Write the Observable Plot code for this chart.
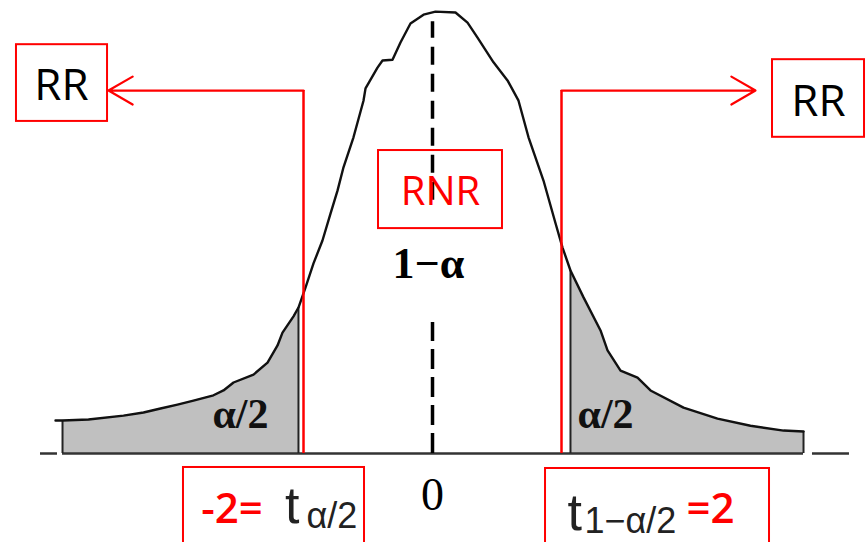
<!DOCTYPE html>
<html>
<head>
<meta charset="utf-8">
<script src="https://cdn.jsdelivr.net/npm/d3@7"></script>
<script src="https://cdn.jsdelivr.net/npm/@observablehq/plot@0.6"></script>
<style>
  html, body { margin: 0; padding: 0; background: #fff; }
  #chart svg { display: block; }
</style>
</head>
<body>
<div id="chart"></div>
<script>
// t-distribution curve (t units, relative density, peak = 1)
const curveT = [-5.544,-5.441,-5.059,-4.544,-4.250,-4.000,-3.750,-3.515,-3.221,-3.074,-2.926,-2.632,-2.426,-2.279,-2.206,-2.044,-1.971,-1.868,-1.750,-1.618,-1.500,-1.397,-1.309,-1.162,-1.015,-0.985,-0.809,-0.735,-0.588,-0.471,-0.324,-0.132,0.044,0.338,0.515,0.662,0.897,1.103,1.265,1.412,1.632,1.809,1.912,2.029,2.221,2.471,2.574,2.765,3.015,3.206,3.691,4.191,4.676,5.162,5.456];
const curveD = [0.075,0.075,0.077,0.086,0.093,0.102,0.111,0.120,0.132,0.143,0.161,0.179,0.206,0.245,0.274,0.311,0.331,0.376,0.431,0.483,0.544,0.596,0.649,0.717,0.800,0.828,0.875,0.891,0.893,0.932,0.975,0.995,1.002,1.000,0.977,0.943,0.887,0.846,0.800,0.717,0.619,0.522,0.467,0.415,0.354,0.279,0.234,0.188,0.172,0.143,0.104,0.079,0.063,0.052,0.050];

// Critical values (shaded tail limits) and the marked critical points ±2
const tailLeft = [-5.441, -1.971];
const tailRight = [2.029, 5.456];
const critical = [-1.897, 1.897];

// Labels
const regionLabels = ["RR", "RNR", "RR"];
const centerLabel = "1−α";
const tailLabel = "α/2";
const zeroLabel = "0";
const leftCrit = ["-2=", "t", "α/2"];
const rightCrit = ["t", "1−α/2", "=2"];

const curve = curveT.map((t, i) => ({t, d: curveD[i]}));
const leftShade = curve.filter(p => p.t >= tailLeft[0] && p.t <= tailLeft[1]);
const rightShade = curve.filter(p => p.t >= tailRight[0] && p.t <= tailRight[1]);
const dAt = t => curve.find(p => p.t === t).d;

const RED = "#ff0000";
const arrowY = 0.823;

// annotation boxes (t, density units)
const boxes = [
  {x1: -6.118, x2: -4.779, y1: 0.753, y2: 0.927},
  {x1: 5.000, x2: 6.353, y1: 0.717, y2: 0.893},
  {x1: -0.794, x2: 1.029, y1: 0.510, y2: 0.687},
  {x1: -3.662, x2: -1.000, y1: -0.25, y2: -0.0317},
  {x1: 1.662, x2: 4.956, y1: -0.25, y2: -0.034}
];

const txt = (arr, o) => Plot.text(arr, {textAnchor: "middle", lineAnchor: "bottom", ...o});

const chart = Plot.plot({
  width: 867,
  height: 542,
  margin: 0,
  x: {domain: [-6.353, 6.397], axis: null},
  y: {domain: [-0.2018, 1.0272], axis: null},
  style: {background: "#fff", overflow: "visible"},
  marks: [
    Plot.areaY(leftShade, {x: "t", y: "d", fill: "#c0c0c0"}),
    Plot.areaY(rightShade, {x: "t", y: "d", fill: "#c0c0c0"}),
    // baseline (with small gaps)
    Plot.ruleY([0], {x1: -5.765, x2: -5.515, stroke: "#333", strokeWidth: 2.5}),
    Plot.ruleY([0], {x1: -5.441, x2: 5.456, stroke: "#333", strokeWidth: 2.5}),
    Plot.ruleY([0], {x1: 5.588, x2: 6.132, stroke: "#333", strokeWidth: 2.5}),
    // tail boundary lines
    Plot.ruleX([tailLeft[0], tailLeft[1], tailRight[0], tailRight[1]], {
      x: d => d, y1: 0, y2: d => dAt(d), stroke: "#222", strokeWidth: 2
    }),
    Plot.line(curve, {x: "t", y: "d", stroke: "#111", strokeWidth: 2.4}),
    // center dashed line
    Plot.ruleX([0], {y1: 0.574, y2: 0.979, stroke: "#000", strokeWidth: 3.5, strokeDasharray: "18,9"}),
    Plot.ruleX([0], {y1: 0, y2: 0.297, stroke: "#000", strokeWidth: 3.5, strokeDasharray: "20,8"}),
    // red critical lines and arrows
    Plot.ruleX(critical, {y1: 0, y2: arrowY, stroke: RED, strokeWidth: 2.5}),
    Plot.arrow([{x1: critical[0], x2: -4.765}, {x1: critical[1], x2: 4.75}], {
      x1: "x1", x2: "x2", y1: arrowY, y2: arrowY, stroke: RED, strokeWidth: 2.2,
      headLength: 19, headAngle: 60, bend: 0
    }),
    Plot.rect(boxes, {x1: "x1", x2: "x2", y1: "y1", y2: "y2", fill: "none", stroke: RED, strokeWidth: 2}),
    // region labels
    txt([regionLabels[0]], {x: -5.456, y: 0.8005, fontFamily: "Open Sans", fontSize: 44, fill: "#000"}),
    txt([regionLabels[2]], {x: 5.676, y: 0.7664, fontFamily: "Open Sans", fontSize: 44, fill: "#000"}),
    txt([regionLabels[1]], {x: 0.118, y: 0.5646, fontFamily: "Open Sans", fontSize: 40, fill: RED}),
    txt([centerLabel], {x: -0.06, y: 0.399, fontFamily: "Liberation Serif", fontWeight: "bold", fontSize: 44, fill: "#000"}),
    txt([tailLabel], {x: -2.824, y: 0.0567, fontFamily: "Liberation Serif", fontWeight: "bold", fontSize: 42, fill: "#111"}),
    txt([tailLabel], {x: 2.544, y: 0.0567, fontFamily: "Liberation Serif", fontWeight: "bold", fontSize: 42, fill: "#111"}),
    txt([zeroLabel], {x: 0, y: -0.129, fontFamily: "Liberation Serif", fontSize: 46, fill: "#000"}),
    // critical value labels
    txt([leftCrit[0]], {x: -3.40, y: -0.1587, textAnchor: "start", fontFamily: "Open Sans", fontWeight: 600, fontSize: 42, fill: RED}),
    txt([leftCrit[1]], {x: -2.17, y: -0.1587, textAnchor: "start", fontFamily: "Liberation Sans", fontSize: 52, fill: "#222"}),
    txt([leftCrit[2]], {x: -1.853, y: -0.168, textAnchor: "start", fontFamily: "Liberation Sans", fontSize: 36, fill: "#222"}),
    txt([rightCrit[0]], {x: 1.985, y: -0.174, textAnchor: "start", fontFamily: "Liberation Sans", fontSize: 52, fill: "#222"}),
    txt([rightCrit[1]], {x: 2.235, y: -0.181, textAnchor: "start", fontFamily: "Liberation Sans", fontSize: 36, fill: "#222"}),
    txt([rightCrit[2]], {x: 3.735, y: -0.1587, textAnchor: "start", fontFamily: "Open Sans", fontWeight: 600, fontSize: 42, fill: RED})
  ]
});
document.getElementById("chart").appendChild(chart);
</script>
</body>
</html>
